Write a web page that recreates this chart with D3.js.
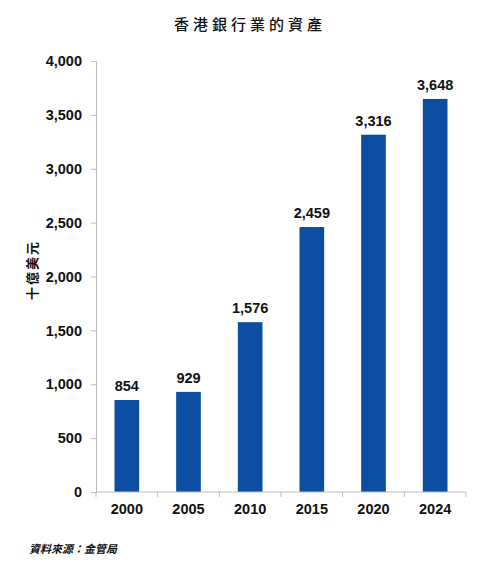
<!DOCTYPE html>
<html>
<head>
<meta charset="utf-8">
<script src="https://cdn.jsdelivr.net/npm/d3@7"></script>
<style>
  body { margin: 0; background: #fff; }
  text { font-family: "Liberation Sans", Arial, sans-serif; }
  .cjk { font-family: "Noto Sans CJK TC", "Noto Sans CJK SC", sans-serif; }
</style>
</head>
<body>
<div id="vis"></div>
<script>
// chart data
const years = ['2000', '2005', '2010', '2015', '2020', '2024'];
const assets = [854, 929, 1576, 2459, 3316, 3648];
const yTicks = [0, 500, 1000, 1500, 2000, 2500, 3000, 3500, 4000];

const width = 490, height = 566;
const margin = { left: 96, right: 24, top: 61, bottom: 74 };
const numSize = 14.5;

const svg = d3.select('#vis').append('svg')
  .attr('width', width)
  .attr('height', height);

const x = d3.scaleBand()
  .domain(years)
  .range([margin.left, width - margin.right])
  .paddingInner(0.6)
  .paddingOuter(0.3);

const y = d3.scaleLinear()
  .domain([0, 4000])
  .range([height - margin.bottom, margin.top]);

// bars
svg.selectAll('rect.bar').data(assets).enter().append('rect')
  .attr('class', 'bar')
  .attr('x', (d, i) => x(years[i]))
  .attr('y', d => y(d))
  .attr('width', x.bandwidth())
  .attr('height', d => y(0) - y(d))
  .attr('fill', '#0b4ea2');

// value labels
svg.selectAll('text.val').data(assets).enter().append('text')
  .attr('class', 'val')
  .attr('x', (d, i) => x(years[i]) + x.bandwidth() / 2)
  .attr('y', d => y(d) - 9)
  .attr('text-anchor', 'middle')
  .attr('font-size', numSize)
  .attr('font-weight', 'bold')
  .attr('fill', '#111')
  .text(d => d3.format(',')(d));

// y axis
const yAxis = svg.append('g')
  .attr('transform', `translate(${margin.left},0)`)
  .call(d3.axisLeft(y).tickValues(yTicks).tickFormat(d3.format(',')).tickSize(5).tickPadding(9));
yAxis.select('.domain').attr('stroke', '#bdbdbd');
yAxis.selectAll('.tick line').attr('stroke', '#bdbdbd');
yAxis.selectAll('.tick text')
  .attr('font-size', numSize).attr('font-weight', 'bold').attr('fill', '#111')
  .style('font-family', '"Liberation Sans", Arial, sans-serif');

// x axis: ticks sit on the category boundaries
const xAxisG = svg.append('g')
  .attr('transform', `translate(0,${y(0)})`);
const edges = d3.range(years.length + 1).map(i => margin.left + i * x.step());
xAxisG.append('line')
  .attr('x1', margin.left).attr('x2', width - margin.right)
  .attr('stroke', '#bdbdbd');
xAxisG.selectAll('line.tk').data(edges).enter().append('line')
  .attr('class', 'tk')
  .attr('x1', d => d).attr('x2', d => d)
  .attr('y1', 0).attr('y2', 5)
  .attr('stroke', '#bdbdbd');
xAxisG.selectAll('text').data(years).enter().append('text')
  .attr('x', d => x(d) + x.bandwidth() / 2)
  .attr('y', 22)
  .attr('text-anchor', 'middle')
  .attr('font-size', numSize)
  .attr('font-weight', 'bold')
  .attr('fill', '#111')
  .text(d => d);

// title
svg.append('text')
  .attr('class', 'cjk')
  .attr('x', 250).attr('y', 30)
  .attr('text-anchor', 'middle')
  .attr('font-size', 15)
  .attr('font-weight', 500)
  .attr('letter-spacing', 4)
  .attr('fill', '#111')
  .text('香港銀行業的資產');

// y label
svg.append('text')
  .attr('class', 'cjk')
  .attr('transform', 'translate(37,270) rotate(-90)')
  .attr('text-anchor', 'middle')
  .attr('font-size', 13)
  .attr('font-weight', 'bold')
  .attr('letter-spacing', 2)
  .attr('fill', '#111')
  .text('十億美元');

// source
svg.append('text')
  .attr('class', 'cjk')
  .attr('x', 29).attr('y', 553)
  .attr('font-size', 11)
  .attr('font-style', 'italic')
  .attr('font-weight', 'bold')
  .attr('fill', '#111')
  .text('資料來源：金管局');
</script>
</body>
</html>
